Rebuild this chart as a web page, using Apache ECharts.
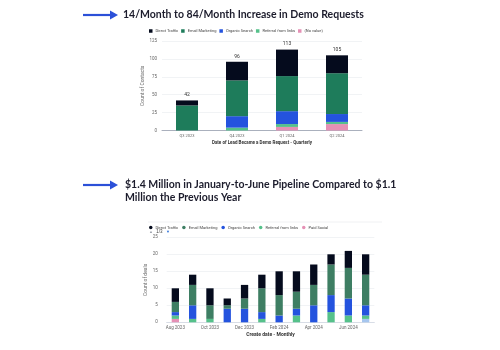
<!DOCTYPE html>
<html>
<head>
<meta charset="utf-8">
<script src="https://cdn.jsdelivr.net/npm/echarts@6/dist/echarts.min.js"></script>
<style>
  html, body { margin: 0; padding: 0; background: #fff; }
  #chart { width: 500px; height: 350px; }
</style>
</head>
<body>
<div id="chart"></div>
<script>
// top chart: demo requests per quarter
var quarters = ['Q3 2023', 'Q4 2023', 'Q1 2024', 'Q2 2024'];
var qDirect = [7, 26, 37, 25];
var qEmail = [35, 50, 49, 57];
var qOrganic = [0, 16, 18, 11];
var qReferral = [0, 4, 4, 3];
var qNoValue = [0, 0, 5, 9];

// bottom chart: deals per month
var months = ['Aug 2023', 'Sep 2023', 'Oct 2023', 'Nov 2023', 'Dec 2023', 'Jan 2024',
  'Feb 2024', 'Mar 2024', 'Apr 2024', 'May 2024', 'Jun 2024', 'Jul 2024'];
var mDirect = [4, 3, 5, 2, 4, 4, 7, 6, 6, 3, 5, 6];
var mEmail = [3, 6, 4, 1, 3, 7, 6, 5, 6, 9, 9, 9];
var mOrganic = [1, 4, 0, 4, 4, 2, 2, 2, 5, 5, 5, 3];
var mReferral = [1, 1, 1, 0, 0, 1, 0, 2, 0, 3, 2, 1];
var mPaidSocial = [1, 0, 0, 0, 0, 0, 0, 0, 0, 0, 0, 0];
var mOther = [0, 0, 0, 0, 0, 0, 0, 0, 0, 0, 0, 1];

var C_DIRECT = '#050b1d';
var C_EMAIL = '#1e7c5b';
var C_EMAIL2 = '#3e7e63';
var C_ORGANIC = '#2453de';
var C_REFERRAL = '#55c18a';
var C_PINK = '#e590b5';
var C_LIGHTBLUE = '#a6c6ef';
var BLUE = '#2b50d8';

var qTotals = quarters.map(function (q, i) {
  return qDirect[i] + qEmail[i] + qOrganic[i] + qReferral[i] + qNoValue[i];
});

function bar(name, data, color, axis, width) {
  return {
    name: name, type: 'bar', stack: 's' + axis, data: data,
    xAxisIndex: axis, yAxisIndex: axis, barWidth: width,
    itemStyle: { color: color }
  };
}

var chart = echarts.init(document.getElementById('chart'));

var topSeries = [
  bar('(No value)', qNoValue, C_PINK, 0, 22),
  bar('Referral from links', qReferral, C_REFERRAL, 0, 22),
  bar('Organic Search', qOrganic, C_ORGANIC, 0, 22),
  bar('Email Marketing', qEmail, C_EMAIL, 0, 22),
  bar('Direct Traffic', qDirect, C_DIRECT, 0, 22)
];
// totals above the bars
topSeries[4].label = {
  show: true, position: 'top', distance: 3, fontSize: 5, color: '#333',
  formatter: function (p) { return qTotals[p.dataIndex]; }
};

var bottomSeries = [
  bar('Paid Social', mPaidSocial, C_PINK, 1, 7.3),
  bar('Other', mOther, C_LIGHTBLUE, 1, 7.3),
  bar('Referral from links', mReferral, C_REFERRAL, 1, 7.3),
  bar('Organic Search', mOrganic, C_ORGANIC, 1, 7.3),
  bar('Email Marketing', mEmail, C_EMAIL2, 1, 7.3),
  bar('Direct Traffic', mDirect, C_DIRECT, 1, 7.3)
];

var legendText = { fontSize: 4, color: '#444', padding: [0, 0, 0, -2] };

var option = {
  animation: false,
  textStyle: { fontFamily: 'Roboto' },
  grid: [
    { left: 162, top: 41, width: 200, height: 89.5 },
    { left: 166.7, top: 237.3, width: 207.6, height: 85 }
  ],
  legend: [
    {
      left: 149, top: 29, padding: 0, icon: 'rect', itemWidth: 3.5, itemHeight: 3.5, itemGap: 3,
      textStyle: legendText,
      data: [
        { name: 'Direct Traffic', itemStyle: { color: C_DIRECT } },
        { name: 'Email Marketing', itemStyle: { color: C_EMAIL } },
        { name: 'Organic Search', itemStyle: { color: C_ORGANIC } },
        { name: 'Referral from links', itemStyle: { color: C_REFERRAL } },
        { name: '(No value)', itemStyle: { color: C_PINK } }
      ]
    },
    {
      left: 149, top: 225.5, padding: 0, icon: 'circle', itemWidth: 3.5, itemHeight: 3.5, itemGap: 4,
      textStyle: legendText,
      data: [
        { name: 'Direct Traffic', itemStyle: { color: C_DIRECT } },
        { name: 'Email Marketing', itemStyle: { color: C_EMAIL2 } },
        { name: 'Organic Search', itemStyle: { color: C_ORGANIC } },
        { name: 'Referral from links', itemStyle: { color: C_REFERRAL } },
        { name: 'Paid Social', itemStyle: { color: C_PINK } }
      ]
    }
  ],
  xAxis: [
    {
      type: 'category', gridIndex: 0, data: quarters,
      name: 'Date of Lead Became a Demo Request - Quarterly',
      nameLocation: 'middle', nameGap: 10,
      nameTextStyle: { fontSize: 4.5, color: '#333', fontWeight: 'bold' },
      axisTick: { show: false },
      axisLine: { lineStyle: { color: '#aab0bd', width: 1 } },
      axisLabel: { fontSize: 4, color: '#666', margin: 3 }
    },
    {
      type: 'category', gridIndex: 1, data: months,
      name: 'Create date - Monthly',
      nameLocation: 'middle', nameGap: 10,
      nameTextStyle: { fontSize: 5, color: '#333', fontWeight: 'bold' },
      axisTick: { show: false },
      axisLine: { lineStyle: { color: '#d8dde6', width: 1 } },
      axisLabel: { fontSize: 4.5, color: '#666', margin: 3, interval: 1 }
    }
  ],
  yAxis: [
    {
      type: 'value', gridIndex: 0, min: 0, max: 125, interval: 25,
      name: 'Count of Contacts', nameLocation: 'middle', nameGap: 13,
      nameTextStyle: { fontSize: 5, color: '#666' },
      axisLabel: { fontSize: 4.5, color: '#666', margin: 5 },
      splitLine: { lineStyle: { color: '#eef0f3', width: 0.8 } }
    },
    {
      type: 'value', gridIndex: 1, min: 0, max: 25, interval: 5,
      name: 'Count of deals', nameLocation: 'middle', nameGap: 14,
      nameTextStyle: { fontSize: 5, color: '#666' },
      axisLabel: { fontSize: 4.5, color: '#666', margin: 9 },
      splitLine: { lineStyle: { color: '#eef0f3', width: 0.8 } }
    }
  ],
  graphic: [
    { type: 'line', shape: { x1: 83, y1: 15, x2: 111, y2: 15 }, style: { stroke: BLUE, lineWidth: 2.2 } },
    { type: 'polygon', shape: { points: [[110, 10.5], [118, 15], [110, 19.5]] }, style: { fill: BLUE } },
    {
      type: 'text', x: 123, y: 15,
      style: {
        text: '14/Month to 84/Month Increase in Demo Requests',
        font: 'bold 10.5px Lato', fill: '#1c1c2c', verticalAlign: 'middle'
      }
    },
    { type: 'line', shape: { x1: 83, y1: 185, x2: 111, y2: 185 }, style: { stroke: BLUE, lineWidth: 2.2 } },
    { type: 'polygon', shape: { points: [[110, 180.5], [118, 185], [110, 189.5]] }, style: { fill: BLUE } },
    {
      type: 'text', x: 125, y: 185,
      style: {
        text: '$1.4 Million in January-to-June Pipeline Compared to $1.1',
        font: 'bold 10.5px Lato', fill: '#1c1c2c', verticalAlign: 'middle'
      }
    },
    {
      type: 'text', x: 125, y: 198,
      style: {
        text: 'Million the Previous Year',
        font: 'bold 10.5px Lato', fill: '#1c1c2c', verticalAlign: 'middle'
      }
    },
    // legend pager, first page of three
    {
      type: 'text', x: 149, y: 231.5,
      style: {
        text: '{a|▲} {b|1/3} {c|▼}',
        verticalAlign: 'middle',
        rich: {
          a: { fontSize: 4, fill: '#9aa0aa' },
          b: { fontSize: 4.5, fill: '#444' },
          c: { fontSize: 4, fill: '#2b6fd8' }
        }
      }
    },
    { type: 'line', shape: { x1: 148, y1: 222, x2: 382, y2: 222 }, style: { stroke: '#f0f1f3', lineWidth: 1 } }
  ],
  series: topSeries.concat(bottomSeries)
};

chart.setOption(option);
</script>
</body>
</html>
